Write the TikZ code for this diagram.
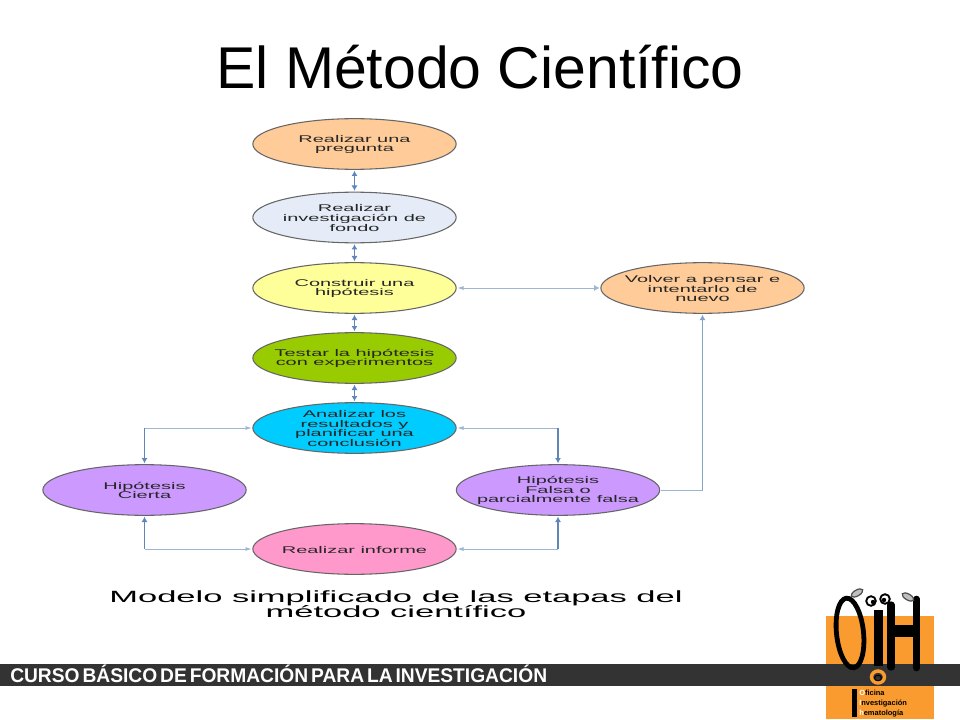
\documentclass[tikz,border=0pt]{standalone}
\usepackage{fontspec}
\setmainfont{Liberation Sans}
\newfontfamily\widefont[FakeStretch=2.05]{Liberation Sans}
\newfontfamily\capfont[FakeStretch=2.12]{Liberation Sans}
\newfontfamily\footfont[WordSpace=0.55,FakeStretch=0.97]{Liberation Sans}
\usetikzlibrary{shapes.geometric,arrows.meta}
\definecolor{lnk}{HTML}{5F86B8}
\definecolor{lnklight}{HTML}{9DB6D4}
\definecolor{logoorange}{HTML}{F99B2E}
\definecolor{band}{HTML}{333333}
\newcommand{\stg}[1]{\smash{\raisebox{-2.2pt}{\makebox[0pt]{\parbox{500pt}{\centering\lineskiplimit=-10pt\relax #1}}}}}
\tikzset{
  x=0.75pt,y=-0.75pt,
  stage/.style={ellipse,draw=black!60,line width=0.8pt,minimum width=152.5pt,minimum height=38pt,inner sep=0pt,outer sep=1pt,
    font=\widefont\fontsize{7.3pt}{7.2pt}\selectfont,text=black!85},
  both/.style={{Latex[length=4pt,width=4.5pt]}-{Latex[length=4pt,width=4.5pt]},draw=lnk,line width=0.8pt},
  lighthead/.style={{Latex[length=4.5pt,width=3pt]}-,draw=lnklight,line width=0.6pt},
  downhead/.style={-{Latex[length=4pt,width=4.5pt]},draw=lnk,line width=0.8pt},
  risehead/.style={-{Latex[length=4pt,width=4.5pt]},draw=lnklight!60!lnk,line width=0.9pt},
  inkthick/.style={draw=black},
  logotext/.style={anchor=west,inner sep=0pt,font=\bfseries\fontsize{5.6pt}{5.6pt}\selectfont,text=black}
}
\begin{document}
\begin{tikzpicture}
\useasboundingbox (0,0) rectangle (960,720);
\fill[white] (0,0) rectangle (960,720);
\node[inner sep=0pt,font=\fontsize{44.2pt}{44.2pt}\selectfont] (title) at (480,67) {El Método Científico};

\node[stage,fill={rgb,255:red,255;green,204;blue,153}] (q) at (354.5,144) {\stg{Realizar una\\pregunta}};
\node[stage,fill={rgb,255:red,230;green,236;blue,247}] (bg) at (354.5,217.5) {\stg{Realizar\\investigación de\\fondo}};
\node[stage,fill={rgb,255:red,255;green,255;blue,153}] (hy) at (354.5,288) {\stg{Construir una\\hipótesis}};
\node[stage,fill={rgb,255:red,153;green,204;blue,0}] (ex) at (354.5,358) {\stg{Testar la hipótesis\\con experimentos}};
\node[stage,fill={rgb,255:red,0;green,204;blue,255}] (an) at (354.5,428) {\stg{Analizar los\\resultados y\\planificar una\\conclusión}};
\node[stage,fill={rgb,255:red,204;green,153;blue,255}] (ci) at (144.5,490) {\stg{Hipótesis\\Cierta}};
\node[stage,fill={rgb,255:red,204;green,153;blue,255}] (fa) at (558,490) {\stg{Hipótesis\\Falsa o\\parcialmente falsa}};
\node[stage,fill={rgb,255:red,255;green,153;blue,204}] (re) at (354.5,549) {\stg{Realizar informe}};
\node[stage,fill={rgb,255:red,255;green,204;blue,153}] (vo) at (702.5,288) {\stg{Volver a pensar e\\intentarlo de\\nuevo}};

\draw[both] (q) -- (bg);
\draw[both] (bg) -- (hy);
\draw[both] (hy) -- (ex);
\draw[both] (ex) -- (an);

\draw[{Latex[length=4.5pt,width=3pt]}-{Latex[length=4pt,width=4.5pt]},draw=lnklight,line width=0.6pt] (hy) -- (vo);

\coordinate (anl) at (an.west -| ci.north);
\coordinate (anr) at (an.east -| fa.north);
\coordinate (rel) at (re.west -| ci.south);
\coordinate (rer) at (re.east -| fa.south);
\coordinate (far) at (fa.east -| vo.south);
\draw[lighthead] (an.west) -- (anl);
\draw[lighthead] (an.east) -- (anr);
\draw[lighthead] (re.west) -- (rel);
\draw[lighthead] (re.east) -- (rer);
\draw[downhead] (anl) -- (ci.north);
\draw[downhead] (anr) -- (fa.north);
\draw[downhead] (rel) -- (ci.south);
\draw[downhead] (rer) -- (fa.south);
\draw[draw=lnklight,line width=0.6pt] (fa.east) -- (far);
\draw[risehead] (far) -- (vo.south);

\node[inner sep=0pt,font=\capfont\fontsize{12.2pt}{11.3pt}\selectfont] (cap) at (396,605.5) {\stg{Modelo simplificado de las etapas del\\método científico}};

% logo background and footer band
\fill[logoorange] (826,616) rectangle (934,719);
\fill[band] (0,664) rectangle (960,686);
\node[anchor=west,inner sep=0pt,text=white,font=\footfont\bfseries\fontsize{14.85pt}{14.85pt}\selectfont] (foot) at (10,674) {CURSO BÁSICO DE FORMACIÓN PARA LA INVESTIGACIÓN};

% logo letters
\draw[inkthick,line width=3.6pt,rotate around={6:(850,633)}] (850,633) ellipse [x radius=13.5,y radius=35];
\fill[black] (874,610) rectangle (883,666);
\draw[inkthick,line width=5.5pt,line cap=round] (891,605) -- (891,667);
\draw[inkthick,line width=5pt,line cap=round] (916.5,599) -- (916.5,668);
\fill[black] (893,625) rectangle (914,637);
\draw[black,line width=1.4pt,fill=white] (871,601) circle [radius=4.8];
\draw[black,line width=1.4pt,fill=white] (885,599) circle [radius=4.8];
\fill[black] (873,602) circle [radius=2.2];
\fill[black] (884,600) circle [radius=2.2];
\draw[black!70,fill=black!25,line width=0.9pt,rotate around={30:(857,593)}] (857,593) ellipse [x radius=6.5,y radius=3];
\draw[black!70,fill=black!25,line width=0.9pt,rotate around={-30:(908,597)}] (908,597) ellipse [x radius=6.5,y radius=3];
\draw[logoorange,line width=2.6pt] (878,677) ellipse [x radius=6.5,y radius=6];
\draw[black,line width=0.7pt] (878,678) ellipse [x radius=3.5,y radius=2.8];
\fill[black] (852,689) rectangle (857,717);
\node[logotext] (l1) at (859,693) {\textcolor{white}{O}ficina};
\node[logotext] (l2) at (859,704) {\textcolor{white}{I}nvestigación};
\node[logotext] (l3) at (859,714) {\textcolor{white}{h}ematología};
\end{tikzpicture}
\end{document}
